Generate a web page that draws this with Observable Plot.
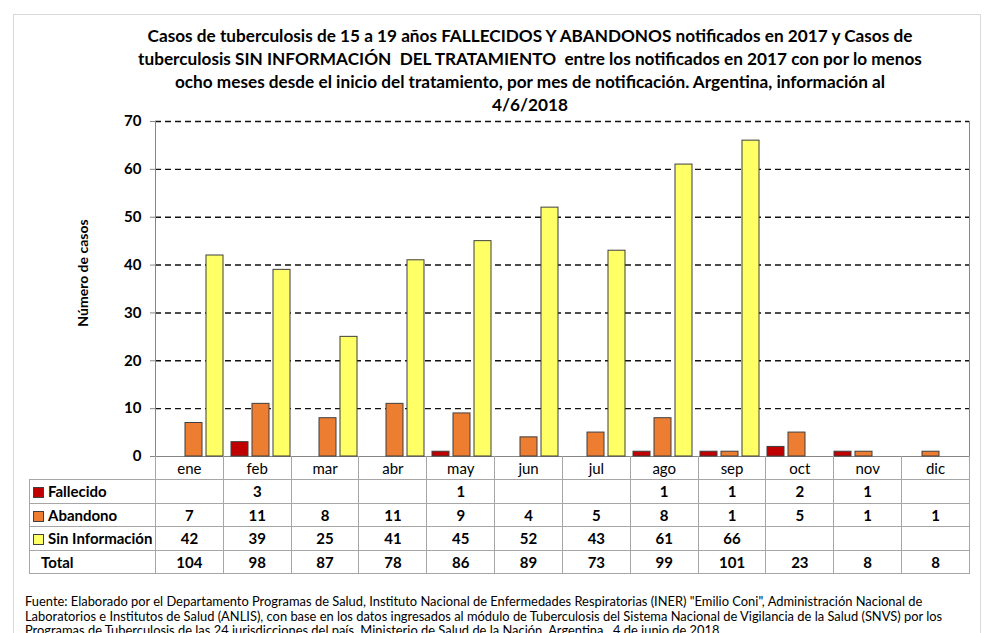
<!DOCTYPE html>
<html><head><meta charset="utf-8">
<script src="https://cdn.jsdelivr.net/npm/d3@7"></script>
<script src="https://cdn.jsdelivr.net/npm/@observablehq/plot@0.6"></script>
<style>
html,body{margin:0;padding:0;background:#fff;}
#wrap{position:relative;width:990px;height:633px;overflow:hidden;font-family:Lato,"Open Sans",sans-serif;color:#000;}
#frame{position:absolute;left:13px;top:14px;width:968px;height:660px;border:1px solid #d9d9d9;box-sizing:border-box;}
#title{position:absolute;left:70px;width:920px;top:24px;text-align:center;font-weight:bold;font-size:17.2px;line-height:23px;}
.layer{position:absolute;left:0;top:0;}
#ylab{position:absolute;left:82px;top:273px;transform:translate(-50%,-50%) rotate(-90deg);font-weight:bold;font-size:14px;white-space:nowrap;}
#tbl{position:absolute;left:29px;top:456px;border-collapse:collapse;table-layout:fixed;width:940px;font-size:15px;font-weight:bold;}
#tbl td{border:1px solid #a6a6a6;padding:0;text-align:center;}
#tbl tr{height:23.5px;}
#tbl td.corner{border:none;}
#tbl td.month{font-weight:normal;border-top:none;}
#tbl td.lab{text-align:left;padding-left:3px;white-space:nowrap;}
#tbl td.tot{text-align:left;padding-left:11px;}
.sw{display:inline-block;width:9px;height:9px;border:1px solid #404040;margin-right:4px;vertical-align:-1px;}
#foot{position:absolute;left:25px;top:594px;font-size:12.9px;line-height:14.5px;white-space:nowrap;}
</style></head>
<body>
<div id="wrap">
  <div id="frame"></div>
  <div id="plots"></div>
  <div id="title">Casos de tuberculosis de 15 a 19 años FALLECIDOS Y ABANDONOS notificados en 2017 y Casos de<br>tuberculosis SIN INFORMACIÓN &nbsp;DEL TRATAMIENTO &nbsp;entre los notificados en 2017 con por lo menos<br>ocho meses desde el inicio del tratamiento, por mes de notificación. Argentina, información al<br>4/6/2018</div>
  <div id="ylab">Número de casos</div>
  <table id="tbl"></table>
  <div id="foot">Fuente: Elaborado por el Departamento Programas de Salud, Instituto Nacional de Enfermedades Respiratorias (INER) "Emilio Coni", Administración Nacional de<br>Laboratorios e Institutos de Salud (ANLIS), con base en los datos ingresados al módulo de Tuberculosis del Sistema Nacional de Vigilancia de la Salud (SNVS) por los<br>Programas de Tuberculosis de las 24 jurisdicciones del país. Ministerio de Salud de la Nación. Argentina, &nbsp;4 de junio de 2018.</div>
</div>
<script>
const months = ["ene","feb","mar","abr","may","jun","jul","ago","sep","oct","nov","dic"];
const fallecido = [null,3,null,null,1,null,null,1,1,2,1,null];
const abandono = [7,11,8,11,9,4,5,8,1,5,1,1];
const sinInformacion = [42,39,25,41,45,52,43,61,66,null,null,null];
const totales = [104,98,87,78,86,89,73,99,101,23,8,8];
const seriesNames = ["Fallecido","Abandono","Sin Información"];
const seriesColors = ["#C00000","#ED7D31","#FFFF66"];
const yTicks = [0,10,20,30,40,50,60,70];

const seriesValues = [fallecido, abandono, sinInformacion];
const rows = months.flatMap((m,i)=>seriesNames.map((s,j)=>({month:m, serie:s, value:seriesValues[j][i]}))).filter(d=>d.value!=null);

const common = {width:990, height:470, marginLeft:155, marginRight:21, marginTop:121, marginBottom:14,
  style:{background:"transparent", overflow:"visible", fontFamily:"Lato, 'Open Sans', sans-serif"}};

const back = Plot.plot({
  ...common,
  x:{domain:[0, months.length], axis:null},
  y:{domain:[0,70], axis:null},
  marks:[
    Plot.gridY(yTicks.filter(t=>t>0), {stroke:"#111", strokeOpacity:1, strokeWidth:1.4, strokeDasharray:"6,4"}),
    Plot.axisY(yTicks, {tickSize:5, tickPadding:9, label:null, fontSize:15, fontWeight:"bold", stroke:"#868686", fill:"#000"}),
    Plot.ruleY([0], {stroke:"#868686"}),
    Plot.ruleX([0, months.length], {stroke:"#868686"})
  ]
});

const bars = Plot.plot({
  ...common,
  fx:{domain:months, padding:0, axis:null, label:null},
  x:{domain:seriesNames, paddingInner:0.21, paddingOuter:0.18, axis:null},
  y:{domain:[0,70], axis:null},
  color:{domain:seriesNames, range:seriesColors},
  marks:[
    Plot.barY(rows, {fx:"month", x:"serie", y:"value", fill:"serie", stroke:"#3f3f3f", strokeWidth:1})
  ]
});

back.classList.add("layer"); bars.classList.add("layer");
const holder = document.getElementById("plots");
holder.appendChild(back); holder.appendChild(bars);

// data table
const tbl = d3.select("#tbl");
const cg = tbl.append("colgroup");
cg.append("col").style("width","126px");
months.forEach(()=>cg.append("col").style("width", (814/12)+"px"));
const hr = tbl.append("tr");
hr.append("td").attr("class","corner");
months.forEach(m=>hr.append("td").attr("class","month").text(m));
seriesNames.forEach((s,j)=>{
  const tr = tbl.append("tr");
  const lab = tr.append("td").attr("class","lab");
  lab.append("span").attr("class","sw").style("background", seriesColors[j]);
  lab.append("span").text(s);
  seriesValues[j].forEach(v=>tr.append("td").text(v==null?"":v));
});
const trT = tbl.append("tr");
trT.append("td").attr("class","lab tot").text("Total");
totales.forEach(v=>trT.append("td").text(v));
</script>
</body></html>
